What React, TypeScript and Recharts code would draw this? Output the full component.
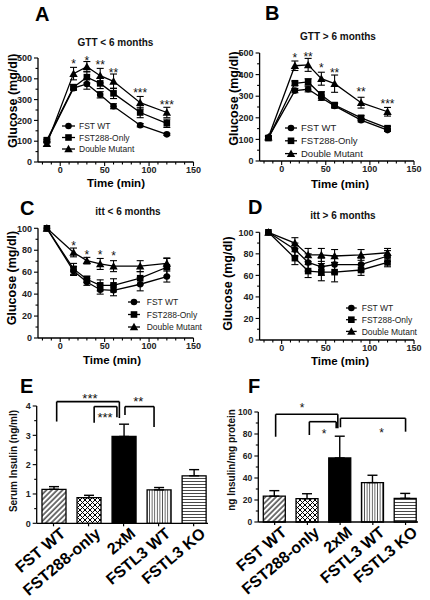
import React from 'react';
import {
  LineChart, Line, XAxis, YAxis, ErrorBar, Legend, Label,
  BarChart, Bar, Cell, ReferenceLine, ReferenceDot,
} from 'recharts';

const FONT = "'Liberation Sans', Arial, Helvetica, sans-serif";

// time points (min) shared by the four tolerance tests
const times = [-15, 15, 30, 45, 60, 90, 120];
const starTimes = [15, 30, 45, 60, 90, 120];
const seriesNames = ['FST WT', 'FST288-Only', 'Double Mutant'];
const groupNames = ['FST WT', 'FST288-only', '2xM', 'FSTL3 WT', 'FSTL3 KO'];

// A: GTT < 6 months
const gttYoungWT = [100, 355, 375, 323, 268, 177, 133];
const gttYoungWTErr = [8, 10, 25, 15, 12, 8, 5];
const gttYoungF288 = [105, 360, 408, 378, 330, 238, 186];
const gttYoungF288Err = [10, 12, 28, 25, 25, 25, 20];
const gttYoungDM = [88, 425, 458, 415, 388, 285, 238];
const gttYoungDMErr = [12, 30, 25, 35, 35, 30, 25];
const gttYoungStars = ['*', '*', '**', '**', '***', '***'];
const gttYoungStarY = [485, 500, 478, 440, 345, 290];

// B: GTT > 6 months
const gttOldWT = [108, 326, 332, 293, 255, 189, 143];
const gttOldWTErr = [6, 10, 12, 12, 10, 8, 6];
const gttOldF288 = [106, 360, 366, 306, 259, 200, 152];
const gttOldF288Err = [6, 10, 15, 15, 10, 10, 8];
const gttOldDM = [110, 441, 445, 381, 358, 270, 228];
const gttOldDMErr = [8, 22, 30, 30, 40, 25, 20];
const gttOldStars = ['*', '**', '*', '**', '**', '***'];
const gttOldStarY = [488, 495, 443, 422, 332, 275];

// C: itt < 6 months
const ittYoungWT = [100, 61, 51, 44, 43.5, 49, 56];
const ittYoungWTErr = [0, 4, 3, 4, 5, 6, 5];
const ittYoungF288 = [100, 63, 53.5, 48, 48, 54.5, 64.5];
const ittYoungF288Err = [0, 5, 3, 5, 6, 6, 8];
const ittYoungDM = [100, 78, 70.5, 67.5, 65.5, 65.5, 68];
const ittYoungDMErr = [0, 4, 3, 5, 5, 5, 5];
const ittYoungStars = ['*', '*', '*', '*', '', ''];
const ittYoungStarY = [86.5, 78.5, 78.5, 77, 0, 0];

// D: itt > 6 months
const ittOldWT = [100, 84, 72, 68, 70, 70, 78];
const ittOldWTErr = [0, 6, 8, 8, 8, 6, 5];
const ittOldF288 = [100, 76, 64, 63, 63, 65, 72];
const ittOldF288Err = [0, 6, 6, 8, 9, 5, 4];
const ittOldDM = [100, 90, 79, 79, 78, 79, 81];
const ittOldDMErr = [0, 5, 6, 6, 6, 5, 4];

// E: serum insulin (ng/ml)
const serumInsulin = [1.16, 0.875, 2.96, 1.14, 1.62];
const serumInsulinErr = [0.09, 0.08, 0.42, 0.08, 0.21];
// F: ng insulin / mg protein
const pancInsulin = [23.5, 21.2, 58.2, 35.8, 21.5];
const pancInsulinErr = [5, 4.5, 19.8, 6.7, 4.5];

// significance brackets, in data units (x = group index)
const serumBrackets = [
  { x1: 0.09, x2: 1.88, top: 4.15, yl: 3.47, yr: 3.59, text: '***', tx: 1.04, ty: 4.37 },
  { x1: 1.16, x2: 1.81, top: 3.98, yl: 3.43, yr: 3.62, text: '***', tx: 1.47, ty: 3.7 },
  { x1: 2.04, x2: 2.87, top: 3.98, yl: 3.69, yr: 3.28, text: '**', tx: 2.42, ty: 4.26 },
];
const pancBrackets = [
  { x1: 0.03, x2: 1.93, top: 97.9, yl: 77.5, yr: 85.2, text: '*', tx: 0.84, ty: 106 },
  { x1: 1.06, x2: 1.88, top: 91.2, yl: 79.1, yr: 85.2, text: '*', tx: 1.51, ty: 83 },
  { x1: 2.01, x2: 4.0, top: 94.3, yl: 86.1, yr: 82.1, text: '*', tx: 3.27, ty: 83.6 },
];

const xMinor = [-20, -10, 0, 10, 20, 30, 40, 50, 60, 70, 80, 90, 100, 110, 120, 130, 140, 150];
const gttTicks = [0, 50, 100, 150, 200, 250, 300, 350, 400, 450, 500];
const ittTicks = [0, 10, 20, 30, 40, 50, 60, 70, 80, 90, 100];
const serumTicks = [0, 0.5, 1, 1.5, 2, 2.5, 3, 3.5, 4];
const pancTicks = [0, 10, 20, 30, 40, 50, 60, 70, 80, 90, 100];

const toRows = (wt: number[], wtE: number[], f: number[], fE: number[], dm: number[], dmE: number[]) =>
  times.map((t, i) => ({ t, wt: wt[i], wtErr: wtE[i], f288: f[i], f288Err: fE[i], dm: dm[i], dmErr: dmE[i] }));

const SHAPES = ['circle', 'square', 'triangle'];
const KEYS = ['wt', 'f288', 'dm'];

function Marker({ shape, x, y }: any) {
  if (shape === 'circle') return <circle cx={x} cy={y} r={3.3} fill="#000" />;
  if (shape === 'square') return <rect x={x - 3.3} y={y - 3.3} width={6.6} height={6.6} fill="#000" />;
  const h = 4.2;
  return <polygon points={`${x},${y - h} ${x + h},${y + h * 0.8} ${x - h},${y + h * 0.8}`} fill="#000" />;
}

const dotFor = (shape: string) => (p: any) => {
  if (p.cx == null || p.cy == null) return <g key={`n-${p.index}`} />;
  return <Marker key={`${shape}-${p.index}`} shape={shape} x={p.cx} y={p.cy} />;
};

const fmt = (v: number) => String(v);

const xTick = (isMajor: (v: number) => boolean) => (p: any) => {
  const v = p.payload.value;
  const big = isMajor(v);
  return (
    <g>
      <line x1={p.x} x2={p.x} y1={p.y} y2={p.y + (big ? 4 : 2.5)} stroke="#000" strokeWidth={1.1} />
      {big && (
        <text x={p.x} y={p.y + 11} textAnchor="middle" fontSize={9} fontWeight="bold" fontFamily={FONT} fill="#222">{fmt(v)}</text>
      )}
    </g>
  );
};

const yTick = (isMajor: (v: number) => boolean, fs = 9) => (p: any) => {
  const v = p.payload.value;
  const big = isMajor(v);
  return (
    <g>
      <line x1={p.x - (big ? 4 : 2.5)} x2={p.x} y1={p.y} y2={p.y} stroke="#000" strokeWidth={1.1} />
      {big && (
        <text x={p.x - 6} y={p.y + 3.2} textAnchor="end" fontSize={fs} fontWeight="bold" fontFamily={FONT} fill="#222">{fmt(v)}</text>
      )}
    </g>
  );
};

const barTick = (p: any) => {
  const name = groupNames[p.payload.value];
  const ax = p.x + 13;
  const ay = p.y + 12;
  return (
    <g>
      <line x1={p.x} x2={p.x} y1={p.y} y2={p.y + 3} stroke="#000" strokeWidth={1.2} />
      <text x={ax} y={ay} transform={`rotate(-40 ${ax} ${ay})`} textAnchor="end" fontSize={16} fontWeight="bold" fontFamily={FONT} fill="#000">{name}</text>
    </g>
  );
};

const starLabel = (text: string, fs: number) => (props: any) => {
  const vb = props.viewBox || {};
  const cx = (vb.x || 0) + (vb.width || 0) / 2;
  const cy = (vb.y || 0) + (vb.height || 0) / 2;
  return <text x={cx} y={cy + fs * 0.57} textAnchor="middle" fontSize={fs} fontFamily={FONT} fill="#111">{text}</text>;
};

function LegendBox({ lw, tx, gap, fs }: any) {
  return (
    <svg width={120} height={gap * 2 + 12} style={{ display: 'block', overflow: 'visible' }}>
      {seriesNames.map((name, i) => {
        const y = 6 + i * gap;
        return (
          <g key={name}>
            <line x1={0} x2={lw} y1={y} y2={y} stroke="#000" strokeWidth={1.3} />
            <Marker shape={SHAPES[i]} x={lw / 2} y={y} />
            <text x={tx} y={y + 3.2} fontSize={fs} fontFamily={FONT} fill="#222">{name}</text>
          </g>
        );
      })}
    </svg>
  );
}

const linePanels = [
  {
    id: 'A', rows: toRows(gttYoungWT, gttYoungWTErr, gttYoungF288, gttYoungF288Err, gttYoungDM, gttYoungDMErr),
    stars: gttYoungStars, starY: gttYoungStarY, clampY: true,
    left: 0, top: 0, width: 215, height: 200, margin: { top: 58, right: 21.5, bottom: 8, left: 0 }, yWidth: 38,
    yDomain: [0, 500], yTicks: gttTicks, yMajor: 100,
    yTitle: { x: 13.5, y: 100.7 }, xTitle: { x: 116, y: 187 },
    legend: { x: 62, y: 126, gap: 11.5, lw: 13, tx: 17, fs: 8.5 },
  },
  {
    id: 'B', rows: toRows(gttOldWT, gttOldWTErr, gttOldF288, gttOldF288Err, gttOldDM, gttOldDMErr),
    stars: gttOldStars, starY: gttOldStarY, clampY: true,
    left: 215, top: 0, width: 215, height: 200, margin: { top: 53, right: 16, bottom: 9, left: 0 }, yWidth: 44.6,
    yDomain: [0, 500], yTicks: gttTicks, yMajor: 100,
    yTitle: { x: 234, y: 98.5 }, xTitle: { x: 340, y: 188 },
    legend: { x: 285, y: 127.7, gap: 12.8, lw: 12, tx: 16, fs: 9.5 },
  },
  {
    id: 'C', rows: toRows(ittYoungWT, ittYoungWTErr, ittYoungF288, ittYoungF288Err, ittYoungDM, ittYoungDMErr),
    stars: ittYoungStars, starY: ittYoungStarY, clampY: false,
    left: 0, top: 195, width: 215, height: 195, margin: { top: 33.3, right: 21.5, bottom: 22, left: 0 }, yWidth: 38,
    yDomain: [0, 100], yTicks: ittTicks, yMajor: 20,
    yTitle: { x: 11.7, y: 278 }, xTitle: { x: 112, y: 364 },
    legend: { x: 128, y: 302.3, gap: 12.5, lw: 12, tx: 18.7, fs: 8.5 },
  },
  {
    id: 'D', rows: toRows(ittOldWT, ittOldWTErr, ittOldF288, ittOldF288Err, ittOldDM, ittOldDMErr),
    stars: [] as string[], starY: [] as number[], clampY: false,
    left: 215, top: 195, width: 215, height: 195, margin: { top: 37.3, right: 16, bottom: 20, left: 0 }, yWidth: 44.6,
    yDomain: [0, 100], yTicks: ittTicks, yMajor: 20,
    yTitle: { x: 228, y: 283.5 }, xTitle: { x: 340, y: 365 },
    legend: { x: 346, y: 308.3, gap: 11.7, lw: 10.7, tx: 15.7, fs: 8.5 },
  },
];

function LinePanel({ c }: any) {
  const L = c.left;
  const T = c.top;
  return (
    <div style={{ position: 'absolute', left: L, top: T }}>
      <LineChart width={c.width} height={c.height} data={c.rows} margin={c.margin}>
        <XAxis
          type="number" dataKey="t" domain={[-25, 150]} ticks={xMinor} interval={0}
          tickSize={0} tickMargin={0} tickLine={false} height={30}
          axisLine={{ stroke: '#000', strokeWidth: 1.3 }}
          tick={xTick((v) => v % 50 === 0)}
        >
          <Label content={() => (
            <text x={c.xTitle.x - L} y={c.xTitle.y - T} textAnchor="middle" fontSize={11.5} fontWeight="bold" fontFamily={FONT} fill="#000">Time (min)</text>
          )} />
        </XAxis>
        <YAxis
          type="number" domain={c.yDomain} ticks={c.yTicks} interval={0} width={c.yWidth}
          allowDataOverflow={c.clampY}
          tickSize={0} tickMargin={0} tickLine={false}
          axisLine={{ stroke: '#000', strokeWidth: 1.3 }}
          tick={yTick((v) => v % c.yMajor === 0)}
        >
          <Label content={() => {
            const x = c.yTitle.x - L;
            const y = c.yTitle.y - T;
            return (
              <text x={x} y={y} transform={`rotate(-90 ${x} ${y})`} textAnchor="middle" dominantBaseline="central"
                fontSize={12.5} fontWeight="bold" fontFamily={FONT} fill="#000">Glucose (mg/dl)</text>
            );
          }} />
        </YAxis>
        {KEYS.map((k, i) => (
          <Line
            key={k} dataKey={k} type="linear" stroke="#000" strokeWidth={1.3}
            dot={dotFor(SHAPES[i])} activeDot={false} isAnimationActive={false} legendType="none"
          >
            <ErrorBar dataKey={`${k}Err`} width={3.5} stroke="#000" strokeWidth={1.1} direction="y" />
          </Line>
        ))}
        {c.stars.map((s: string, i: number) => s ? (
          <ReferenceDot key={`s${i}`} x={starTimes[i]} y={c.starY[i]} r={0} fill="none" stroke="none"
            ifOverflow="visible" label={starLabel(s, 12)} />
        ) : null)}
        <Legend
          layout="vertical" align="center" verticalAlign="middle"
          wrapperStyle={{ left: c.legend.x - L, top: c.legend.y - T - 6, width: 120 }}
          content={() => <LegendBox lw={c.legend.lw} tx={c.legend.tx} gap={c.legend.gap} fs={c.legend.fs} />}
        />
      </LineChart>
    </div>
  );
}

const barPanels = [
  {
    id: 'e', values: serumInsulin, errs: serumInsulinErr, brackets: serumBrackets,
    left: 0, top: 390, width: 215, height: 210, margin: { top: 16, right: 7, bottom: 0, left: 0 },
    yWidth: 36.7, xHeight: 76.7, xDomain: [-0.48, 4.41], barSize: 24,
    yDomain: [0, 4], yTicks: serumTicks, yMajor: 1, tickFs: 9,
    yTitle: { x: 13, y: 461, text: 'Serum Insulin (ng/ml)' }, starFs: 13,
  },
  {
    id: 'f', values: pancInsulin, errs: pancInsulinErr, brackets: pancBrackets,
    left: 215, top: 390, width: 215, height: 210, margin: { top: 22, right: 12, bottom: 0, left: 0 },
    yWidth: 43.3, xHeight: 78, xDomain: [-0.5, 4.38], barSize: 22,
    yDomain: [0, 100], yTicks: pancTicks, yMajor: 20, tickFs: 8.5,
    yTitle: { x: 231, y: 460, text: 'ng Insulin/mg protein' }, starFs: 12,
  },
];

function BarPanel({ c }: any) {
  const L = c.left;
  const T = c.top;
  const rows = c.values.map((v: number, i: number) => ({ i, v, err: [0, c.errs[i]] }));
  const fills = [`url(#${c.id}-diag)`, `url(#${c.id}-cross)`, '#000', `url(#${c.id}-vert)`, `url(#${c.id}-horz)`];
  const seg = { stroke: '#000', strokeWidth: 1.6, ifOverflow: 'visible' as const };
  return (
    <div style={{ position: 'absolute', left: L, top: T }}>
      <BarChart width={c.width} height={c.height} data={rows} margin={c.margin}>
        <defs>
          <pattern id={`${c.id}-diag`} patternUnits="userSpaceOnUse" width={3.8} height={3.8} patternTransform="rotate(45)">
            <rect width={3.8} height={3.8} fill="#fff" />
            <line x1={1} y1={0} x2={1} y2={3.8} stroke="#000" strokeWidth={1.1} />
          </pattern>
          <pattern id={`${c.id}-cross`} patternUnits="userSpaceOnUse" width={5} height={5}>
            <rect width={5} height={5} fill="#fff" />
            <path d="M0,0 L5,5 M5,0 L0,5" stroke="#000" strokeWidth={1} />
          </pattern>
          <pattern id={`${c.id}-vert`} patternUnits="userSpaceOnUse" width={2.6} height={4}>
            <rect width={2.6} height={4} fill="#fff" />
            <line x1={1.3} y1={0} x2={1.3} y2={4} stroke="#333" strokeWidth={0.8} />
          </pattern>
          <pattern id={`${c.id}-horz`} patternUnits="userSpaceOnUse" width={4} height={3}>
            <rect width={4} height={3} fill="#fff" />
            <line x1={0} y1={1.5} x2={4} y2={1.5} stroke="#333" strokeWidth={0.9} />
          </pattern>
        </defs>
        <XAxis
          type="number" dataKey="i" domain={c.xDomain} ticks={[0, 1, 2, 3, 4]} interval={0}
          tickSize={0} tickMargin={0} tickLine={false} height={c.xHeight}
          axisLine={{ stroke: '#000', strokeWidth: 1.3 }} tick={barTick}
        />
        <YAxis
          type="number" domain={c.yDomain} ticks={c.yTicks} interval={0} width={c.yWidth}
          tickSize={0} tickMargin={0} tickLine={false}
          axisLine={{ stroke: '#000', strokeWidth: 1.3 }}
          tick={yTick((v) => Math.abs(v / c.yMajor - Math.round(v / c.yMajor)) < 1e-6, c.tickFs)}
        >
          <Label content={() => {
            const x = c.yTitle.x - L;
            const y = c.yTitle.y - T;
            return (
              <text x={x} y={y} transform={`rotate(-90 ${x} ${y})`} textAnchor="middle" dominantBaseline="central"
                fontSize={10} fontWeight="bold" fontFamily={FONT} fill="#111">{c.yTitle.text}</text>
            );
          }} />
        </YAxis>
        <Bar dataKey="v" barSize={c.barSize} stroke="#000" strokeWidth={1.3} isAnimationActive={false}>
          {rows.map((r: any, i: number) => <Cell key={i} fill={fills[i]} />)}
          <ErrorBar dataKey="err" width={5} stroke="#000" strokeWidth={1.4} direction="y" />
        </Bar>
        {c.brackets.map((b: any, i: number) => [
          <ReferenceLine key={`l${i}`} segment={[{ x: b.x1, y: b.yl }, { x: b.x1, y: b.top }]} {...seg} />,
          <ReferenceLine key={`t${i}`} segment={[{ x: b.x1, y: b.top }, { x: b.x2, y: b.top }]} {...seg} />,
          <ReferenceLine key={`r${i}`} segment={[{ x: b.x2, y: b.top }, { x: b.x2, y: b.yr }]} {...seg} />,
          <ReferenceDot key={`d${i}`} x={b.tx} y={b.ty} r={0} fill="none" stroke="none" ifOverflow="visible"
            label={starLabel(b.text, c.starFs)} />,
        ])}
      </BarChart>
    </div>
  );
}

const letters = [
  { t: 'A', x: 35, y: 21 }, { t: 'B', x: 265, y: 20 },
  { t: 'C', x: 20, y: 215 }, { t: 'D', x: 248, y: 214 },
  { t: 'E', x: 20, y: 393 }, { t: 'F', x: 248, y: 393 },
];
const titles = [
  { t: 'GTT < 6 months', x: 115.5, y: 45.5 },
  { t: 'GTT > 6 months', x: 338, y: 40 },
  { t: 'itt < 6 months', x: 128, y: 215 },
  { t: 'itt > 6 months', x: 343, y: 219 },
];

export default function App() {
  return (
    <div style={{ position: 'absolute', left: 0, top: 0, width: 430, height: 600, background: '#fff', fontFamily: FONT, overflow: 'hidden' }}>
      {linePanels.map((c) => <LinePanel key={c.id} c={c} />)}
      {barPanels.map((c) => <BarPanel key={c.id} c={c} />)}
      <svg width={430} height={600} style={{ position: 'absolute', left: 0, top: 0, pointerEvents: 'none' }}>
        {letters.map((l) => (
          <text key={l.t} x={l.x} y={l.y} fontSize={20} fontWeight="bold" fontFamily={FONT} fill="#000">{l.t}</text>
        ))}
        {titles.map((l) => (
          <text key={l.t} x={l.x} y={l.y} textAnchor="middle" fontSize={10} fontWeight="bold" fontFamily={FONT} fill="#111">{l.t}</text>
        ))}
      </svg>
    </div>
  );
}
